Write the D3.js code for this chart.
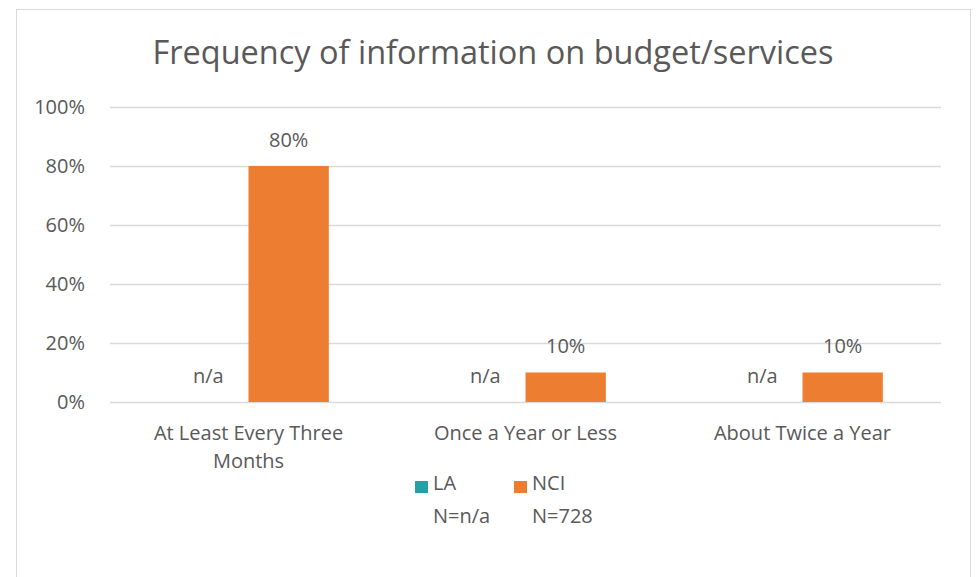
<!DOCTYPE html>
<html lang="en">
<head>
    <meta charset="UTF-8">
    <title>Frequency of information on budget/services</title>
    <script src="https://d3js.org/d3.v7.min.js"></script>
    <style>
        body { margin: 0; background: #fff; font-family: "Open Sans", sans-serif; }
        svg text { fill: #595959; }
    </style>
</head>
<body>
    <svg width="976" height="577"></svg>

    <script>
        // data
        const categories = ["At Least Every Three Months", "Once a Year or Less", "About Twice a Year"];
        const seriesNames = ["LA", "NCI"];
        const seriesN = ["N=n/a", "N=728"];
        const laValues = [null, null, null];
        const nciValues = [0.80, 0.10, 0.10];
        const yTicks = [0, 0.2, 0.4, 0.6, 0.8, 1.0];
        const colors = ["#24A0A6", "#ED7D31"];

        const svg = d3.select("svg");

        // chart frame
        svg.append("rect")
            .attr("x", 16.5).attr("y", 9.5)
            .attr("width", 954).attr("height", 600)
            .attr("fill", "#fff").attr("stroke", "#d9d9d9");

        svg.append("text")
            .attr("x", 493).attr("y", 64)
            .attr("text-anchor", "middle")
            .attr("font-size", 32.5)
            .text("Frequency of information on budget/services");

        const plotL = 110, plotR = 941, plotT = 107, plotB = 402;

        const x0 = d3.scaleBand().domain(categories).range([plotL, plotR]).paddingInner(0.42).paddingOuter(0.21);
        const x1 = d3.scaleBand().domain(seriesNames).range([0, x0.bandwidth()]);
        const y = d3.scaleLinear().domain([0, 1]).range([plotB, plotT]);

        // gridlines + y axis labels
        const yAxis = d3.axisLeft(y).tickValues(yTicks).tickFormat(d3.format(".0%"))
            .tickSize(-(plotR - plotL)).tickPadding(25);
        const ga = svg.append("g").attr("transform", `translate(${plotL},0)`).call(yAxis);
        ga.select(".domain").remove();
        ga.selectAll("line").attr("stroke", "#d9d9d9").attr("stroke-width", 1.3);
        ga.selectAll("text").attr("font-size", 20).attr("fill", "#595959")
            .attr("font-family", "'Open Sans', sans-serif");

        const rows = categories.map((c, i) => ({ cat: c, vals: [laValues[i], nciValues[i]] }));

        const groups = svg.selectAll("g.cat").data(rows).enter().append("g")
            .attr("class", "cat")
            .attr("transform", d => `translate(${x0(d.cat)},0)`);

        groups.selectAll("rect").data(d => d.vals.map((v, j) => ({ v, s: seriesNames[j], j })))
            .enter().append("rect")
            .attr("x", d => x1(d.s))
            .attr("width", x1.bandwidth())
            .attr("y", d => y(d.v || 0))
            .attr("height", d => y(0) - y(d.v || 0))
            .attr("fill", d => colors[d.j]);

        groups.selectAll("text.lbl").data(d => d.vals.map((v, j) => ({ v, s: seriesNames[j] })))
            .enter().append("text")
            .attr("class", "lbl")
            .attr("x", d => x1(d.s) + x1.bandwidth() / 2)
            .attr("y", d => y(d.v || 0) - 19.5)
            .attr("text-anchor", "middle")
            .attr("font-size", 20)
            .text(d => d.v == null ? "n/a" : d3.format(".0%")(d.v));

        // category labels
        const catLines = { "At Least Every Three Months": ["At Least Every Three", "Months"] };
        svg.selectAll("text.cat").data(categories).enter().append("text")
            .attr("class", "cat")
            .attr("x", d => x0(d) + x0.bandwidth() / 2)
            .attr("y", 440)
            .attr("text-anchor", "middle")
            .attr("font-size", 20)
            .each(function(d) {
                const lines = catLines[d] || [d];
                d3.select(this).selectAll("tspan").data(lines).enter().append("tspan")
                    .attr("x", x0(d) + x0.bandwidth() / 2)
                    .attr("dy", (l, i) => i === 0 ? 0 : 28)
                    .text(l => l);
            });

        // legend
        const legendX = [415, 514];
        const lg = svg.selectAll("g.legend").data(seriesNames).enter().append("g")
            .attr("class", "legend")
            .attr("transform", (d, i) => `translate(${legendX[i]},481)`);
        lg.append("rect").attr("width", 13).attr("height", 12).attr("fill", (d, i) => colors[i]);
        lg.append("text").attr("x", 18).attr("y", 9).attr("font-size", 20).text(d => d);
        lg.append("text").attr("x", 18).attr("y", 42).attr("font-size", 20).text((d, i) => seriesN[i]);
    </script>
</body>
</html>
